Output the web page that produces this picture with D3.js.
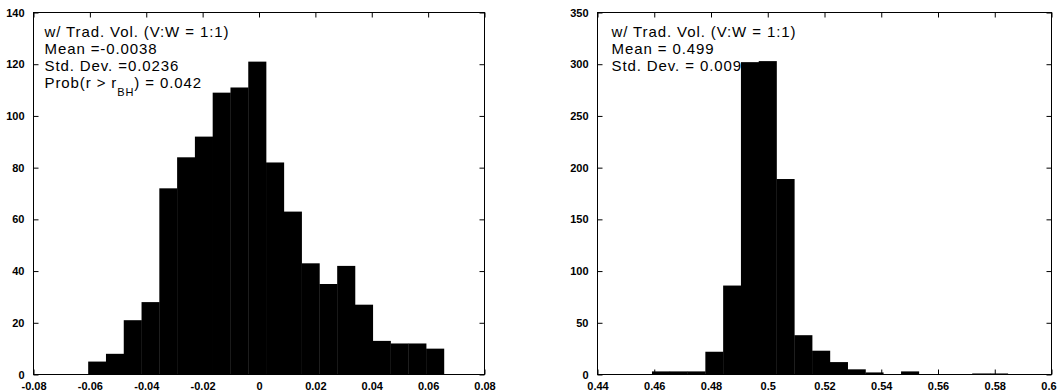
<!DOCTYPE html>
<html>
<head>
<meta charset="utf-8">
<script src="https://cdn.jsdelivr.net/npm/d3@7"></script>
<style>
  html, body { margin: 0; padding: 0; background: #fff; }
  svg { display: block; }
  .tick-label { font-family: "Liberation Sans", Arial, sans-serif; font-weight: bold; font-size: 11px; fill: #000; }
  .note { font-family: "Liberation Sans", Arial, sans-serif; font-size: 15px; letter-spacing: 0.9px; fill: #000; }
</style>
</head>
<body>
<svg id="chart" width="1057" height="392"></svg>
<script>
// Histogram of correlation r with trading volume (V:W = 1:1)
const leftBinStart = -0.0606;
const leftBinWidth = 0.00631;
const leftCounts = [5, 8, 21, 28, 72, 84, 92, 109, 111, 121, 82, 63, 43, 35, 42, 27, 13, 12, 12, 10];
const leftXTicks = [-0.08, -0.06, -0.04, -0.02, 0, 0.02, 0.04, 0.06, 0.08];
const leftXLabels = ["-0.08", "-0.06", "-0.04", "-0.02", "0", "0.02", "0.04", "0.06", "0.08"];
const leftYTicks = [0, 20, 40, 60, 80, 100, 120, 140];
const leftNotes = ["w/ Trad. Vol. (V:W = 1:1)", "Mean =-0.0038", "Std. Dev. =0.0236"];

// Histogram of the ratio estimate
const rightBinStart = 0.4592;
const rightBinWidth = 0.00627;
const rightCounts = [3, 3, 3, 22, 86, 302, 303, 189, 38, 23, 12, 5, 2, 0, 3, 0, 0, 0, 1, 1];
const rightXTicks = [0.44, 0.46, 0.48, 0.5, 0.52, 0.54, 0.56, 0.58, 0.6];
const rightXLabels = ["0.44", "0.46", "0.48", "0.5", "0.52", "0.54", "0.56", "0.58", "0.6"];
const rightYTicks = [0, 50, 100, 150, 200, 250, 300, 350];
const rightNotes = ["w/ Trad. Vol. (V:W = 1:1)", "Mean = 0.499", "Std. Dev. = 0.009"];

const svg = d3.select("#chart");

function panel(opts) {
  const g = svg.append("g");
  const x = d3.scaleLinear().domain(opts.xDomain).range([opts.left, opts.right]);
  const y = d3.scaleLinear().domain(opts.yDomain).range([opts.bottom, opts.top]);

  // annotation text sits underneath the bars
  const note = g.append("text").attr("class", "note");
  opts.notes.forEach((t, i) => {
    note.append("tspan").attr("x", opts.left + opts.noteDx).attr("y", opts.top + 24 + i * 17).text(t);
  });
  if (opts.prob) {
    const p = g.append("text").attr("class", "note")
      .attr("x", opts.left + opts.noteDx).attr("y", opts.top + 24 + 3 * 17);
    p.append("tspan").text("Prob(r > r");
    p.append("tspan").attr("dy", 8).style("font-size", "11px").text("BH");
    p.append("tspan").attr("dy", -8).text(") = " + opts.prob);
  }

  // bars
  const bins = opts.counts.map((c, i) => ({
    x0: opts.binStart + i * opts.binWidth,
    x1: opts.binStart + (i + 1) * opts.binWidth,
    n: c
  }));
  g.append("g").selectAll("rect").data(bins.filter(b => b.n > 0)).join("rect")
    .attr("x", b => x(b.x0))
    .attr("width", b => x(b.x1) - x(b.x0) + 0.3)
    .attr("y", b => y(b.n))
    .attr("height", b => y(0) - y(b.n))
    .attr("fill", "#000");

  // axes with inward ticks on all four sides
  const tickLen = 5;
  const fmt = d => opts.xLabels[opts.xTicks.indexOf(d)];
  const bottomAxis = d3.axisBottom(x).tickValues(opts.xTicks).tickSize(-tickLen).tickPadding(tickLen + 3).tickFormat(fmt);
  const topAxis = d3.axisTop(x).tickValues(opts.xTicks).tickSize(-tickLen).tickFormat("");
  const leftAxis = d3.axisLeft(y).tickValues(opts.yTicks).tickSize(-tickLen).tickPadding(tickLen + 4);
  const rightAxis = d3.axisRight(y).tickValues(opts.yTicks).tickSize(-tickLen).tickFormat("");

  const styleAxis = sel => {
    sel.selectAll("path.domain").attr("stroke", "#000").attr("stroke-width", 1);
    sel.selectAll(".tick line").attr("stroke", "#000");
    sel.selectAll(".tick text").attr("class", "tick-label").attr("font-family", null).attr("font-size", null);
  };
  const bx = g.append("g").attr("transform", `translate(0,${opts.bottom})`).call(bottomAxis).call(styleAxis);
  g.append("g").attr("transform", `translate(0,${opts.top})`).call(topAxis).call(styleAxis);
  g.append("g").attr("transform", `translate(${opts.left},0)`).call(leftAxis).call(styleAxis);
  g.append("g").attr("transform", `translate(${opts.right},0)`).call(rightAxis).call(styleAxis);
  g.selectAll("path.domain").attr("d", null);
  if (opts.lastLabelDx) {
    bx.selectAll(".tick text").filter((d, i, n) => i === n.length - 1).attr("dx", opts.lastLabelDx);
  }
  g.append("rect")
    .attr("x", opts.left).attr("y", opts.top)
    .attr("width", opts.right - opts.left).attr("height", opts.bottom - opts.top)
    .attr("fill", "none").attr("stroke", "#000").attr("stroke-width", 1);
}

panel({
  left: 33.5, right: 484.5, top: 12.5, bottom: 374.5,
  xDomain: [-0.08, 0.08], yDomain: [0, 140],
  xTicks: leftXTicks, xLabels: leftXLabels, yTicks: leftYTicks,
  binStart: leftBinStart, binWidth: leftBinWidth, counts: leftCounts,
  notes: leftNotes, prob: "0.042", noteDx: 11
});

panel({
  left: 597.5, right: 1051.5, top: 12.5, bottom: 374.5,
  xDomain: [0.44, 0.6], yDomain: [0, 350],
  xTicks: rightXTicks, xLabels: rightXLabels, yTicks: rightYTicks,
  binStart: rightBinStart, binWidth: rightBinWidth, counts: rightCounts,
  notes: rightNotes, noteDx: 14, lastLabelDx: -3
});
</script>
</body>
</html>
